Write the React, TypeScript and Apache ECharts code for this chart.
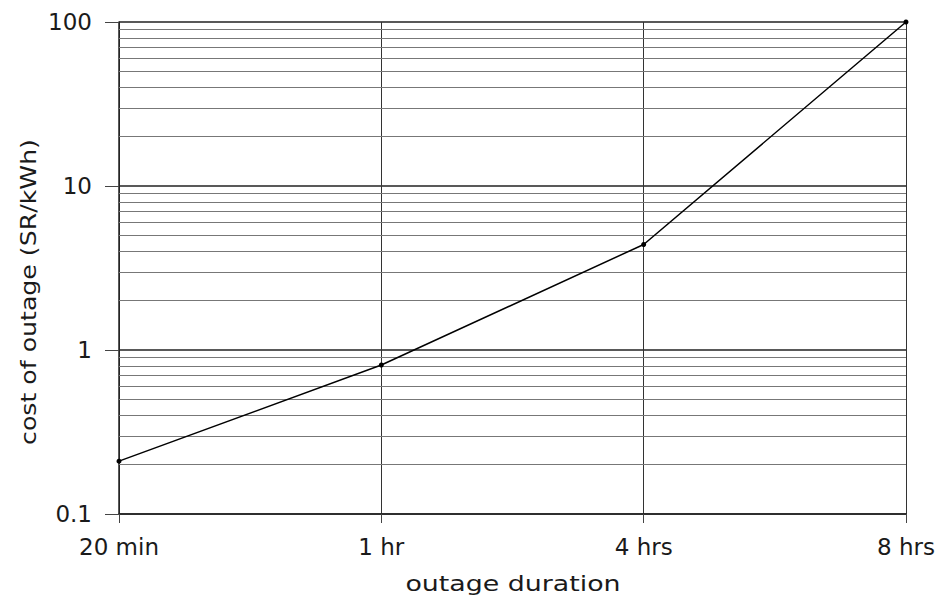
import React, { useEffect, useRef } from "react";
import * as echarts from "echarts";

const categories = ["20 min", "1 hr", "4 hrs", "8 hrs"];
const costValues = [0.21, 0.81, 4.4, 100];
const minorGridValues = [
  0.2, 0.3, 0.4, 0.5, 0.6, 0.7, 0.8, 0.9,
  2, 3, 4, 5, 6, 7, 8, 9,
  20, 30, 40, 50, 60, 70, 80, 90,
];
const yAxisTitle = "cost of outage (SR/kWh)";
const xAxisTitle = "outage duration";

export default function App() {
  const ref = useRef<HTMLDivElement>(null);
  useEffect(() => {
    document.body.style.margin = "0";
    if (!ref.current) return;
    const chart = echarts.init(ref.current, null, { renderer: "svg" });
    const font = "'DejaVu Sans', 'Liberation Sans', sans-serif";
    chart.setOption({
      animation: false,
      backgroundColor: "#ffffff",
      grid: { left: 119, right: 37, top: 22, bottom: 82, containLabel: false },
      graphic: [
        {
          type: "text",
          x: 513,
          y: 583,
          scaleX: 1.22,
          style: {
            text: xAxisTitle,
            fontFamily: font,
            fontSize: 22,
            fill: "#1a1a1a",
            textAlign: "center",
            textVerticalAlign: "middle",
          },
        },
        {
          type: "text",
          x: 28,
          y: 292,
          rotation: Math.PI / 2,
          scaleX: 1.2,
          style: {
            text: yAxisTitle,
            fontFamily: font,
            fontSize: 21,
            fill: "#1a1a1a",
            textAlign: "center",
            textVerticalAlign: "middle",
          },
        },
      ],
      xAxis: {
        type: "category",
        data: categories,
        boundaryGap: false,
        axisLine: { show: true, lineStyle: { color: "#222", width: 1.5 } },
        axisTick: { show: true, length: 9, inside: false, lineStyle: { color: "#444", width: 1 } },
        axisLabel: { fontFamily: font, fontSize: 23, color: "#1a1a1a", margin: 21 },
        splitLine: { show: true, lineStyle: { color: "#333", width: 1 } },
      },
      yAxis: {
        type: "log",
        logBase: 10,
        min: 0.1,
        max: 100,
        axisLine: { show: true, lineStyle: { color: "#222", width: 1.5 } },
        axisTick: { show: true, length: 14, inside: false, lineStyle: { color: "#444", width: 1 } },
        axisLabel: {
          fontFamily: font,
          fontSize: 23,
          color: "#1a1a1a",
          margin: 27,
          formatter: (v: number) => (v < 1 ? String(v) : String(Math.round(v))),
        },
        splitLine: { show: true, lineStyle: { color: "#222", width: 1.5 } },
      },
      series: [
        {
          type: "line",
          data: costValues,
          symbol: "circle",
          symbolSize: 5,
          itemStyle: { color: "#000" },
          lineStyle: { color: "#000", width: 1.5 },
          markLine: {
            silent: true,
            symbol: ["none", "none"],
            label: { show: false },
            lineStyle: { color: "#777", width: 1, type: "solid" },
            data: minorGridValues.map((v) => ({ yAxis: v })),
          },
          z: 5,
        },
      ],
    });
    return () => chart.dispose();
  }, []);
  return <div ref={ref} style={{ width: 943, height: 596 }} />;
}
